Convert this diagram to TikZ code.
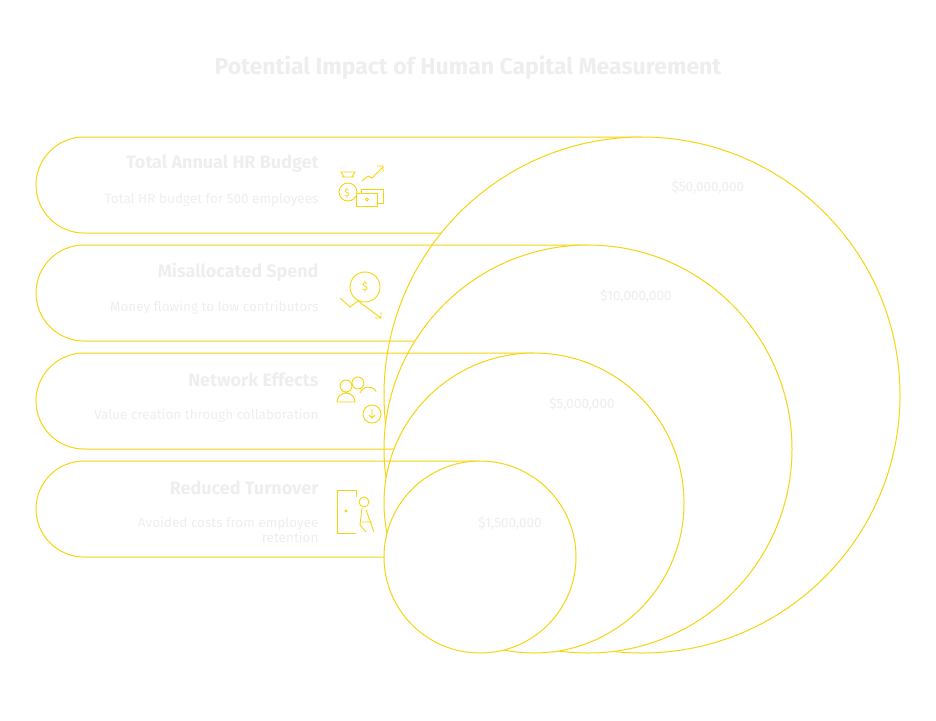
\documentclass[tikz,border=0pt]{standalone}
\usepackage{fontspec}
\setmainfont{Fira Sans}
\definecolor{yel}{HTML}{F5D50F}
\definecolor{txt}{HTML}{EEEEEE}
\begin{document}
\begin{tikzpicture}[x=1pt,y=-1pt,
 band/.style={draw=yel,line width=1pt},
 circ/.style={draw=yel,fill=white,line width=1pt},
 ttl/.style={text=txt,font=\bfseries\fontsize{18}{20}\selectfont,anchor=east},
 sub/.style={text=txt,font=\fontsize{13.5}{15}\selectfont,anchor=east,align=right},
 val/.style={text=txt,font=\fontsize{13.5}{15}\selectfont},
 ic/.style={draw=yel,line width=0.9pt}]
\path[use as bounding box] (0,0) rectangle (936,720);
\node[text=txt,font=\bfseries\fontsize{23}{26}\selectfont] (title) at (468,68) {Potential Impact of Human Capital Measurement};
\draw[band] (642,137) -- (84,137) arc[start angle=270,end angle=90,radius=48] -- (700,233);
\draw[circ] (642,395) circle[radius=258];
\draw[band] (588,245) -- (84,245) arc[start angle=270,end angle=90,radius=48] -- (650,341);
\draw[circ] (588,449) circle[radius=204];
\draw[band] (534,353) -- (84,353) arc[start angle=270,end angle=90,radius=48] -- (600,449);
\draw[circ] (534,503) circle[radius=150];
\draw[band] (480,461) -- (84,461) arc[start angle=270,end angle=90,radius=48] -- (540,557);
\draw[circ] (480,557) circle[radius=96];
% texts
\node[ttl] (t1) at (322,164) {Total Annual HR Budget};
\node[sub] (s1) at (322,200) {Total HR budget for 500 employees};
\node[ttl] (t2) at (322,272) {Misallocated Spend};
\node[sub] (s2) at (322,308) {Money flowing to low contributors};
\node[ttl] (t3) at (322,380) {Network Effects};
\node[sub] (s3) at (322,416) {Value creation through collaboration};
\node[ttl] (t4) at (322,488) {Reduced Turnover};
\node[sub] (s4) at (322,530) {Avoided costs from employee\\retention};
\node[val] (v1) at (708,187) {\$50,000,000};
\node[val] (v2) at (636,296) {\$10,000,000};
\node[val] (v3) at (582,404) {\$5,000,000};
\node[val] (v4) at (510,523) {\$1,500,000};
% icon 1
\draw[ic] (348,192) circle[radius=9];
\draw[ic] (342,177) -- (354,177) (344,177) -- (341,172) -- (355,172) -- (352,177);
\node[text=yel,font=\fontsize{10}{10}\selectfont] (d1) at (347,193) {\$};
\draw[ic,fill=white] (356,193) rectangle (377,206);
\draw[ic] (361,193) -- (361,189) -- (383,189) -- (383,203) -- (377,203);
\draw[ic] (367,199.5) circle[radius=1.5];
\draw[ic] (362,181) -- (368,176) -- (372,178) -- (383,167) (377,166) -- (383,166) -- (383,172);
% icon 2
\draw[ic] (365,287) circle[radius=15];
\node[text=yel,font=\fontsize{11}{11}\selectfont] (d2) at (365,287) {\$};
\draw[ic] (340,298) -- (350,307) -- (358,301) -- (381,318) (375,318) -- (381,318) -- (381,312);
% icon 3
\draw[ic] (346,386) circle[radius=6] (337,402) arc[start angle=180,end angle=360,radius=9] (337,402) -- (355,402);
\draw[ic] (358,383) circle[radius=6] (360,393) arc[start angle=200,end angle=330,radius=9];
\draw[ic,fill=white] (372,414) circle[radius=9];
\draw[ic] (372,409) -- (372,418) (369,415) -- (372,418) -- (375,415);
% icon 4
\draw[ic] (356,490) -- (337,490) -- (337,533) -- (356,533) (356,490) -- (356,497);
\draw[ic] (346,511) circle[radius=1];
\draw[ic] (364,502) circle[radius=5] (362,508) -- (360,525) (366,510) -- (374,532) (360,525) -- (366,532) (362,522) -- (372,522);
\end{tikzpicture}
\end{document}
